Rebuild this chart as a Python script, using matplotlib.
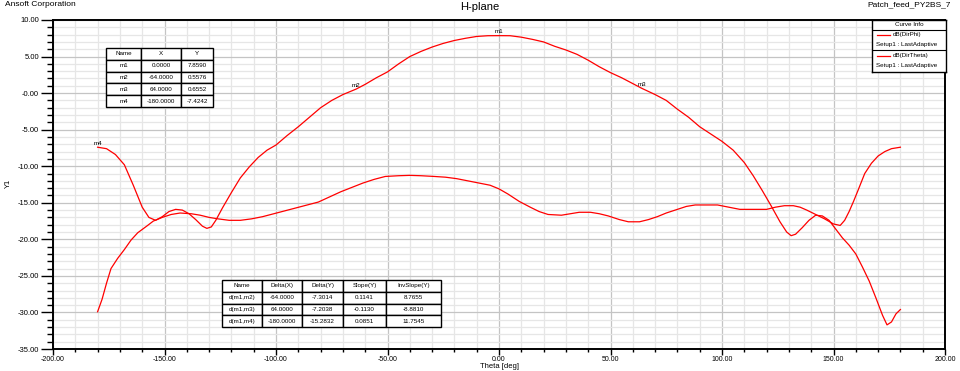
import numpy as np
import matplotlib
matplotlib.use('Agg')
import matplotlib.pyplot as plt
from matplotlib.ticker import MultipleLocator, FixedLocator

# Dane (H-plane)
theta_phi = [-180, -176, -172, -168, -164, -160, -157, -154, -151, -148, -145, -142, -139, -136, -133, -131,
             -129, -127, -124, -120, -116, -112, -108, -104, -100, -95, -90, -85, -80, -75, -70, -64, -60,
             -55, -50, -45, -40, -35, -30, -25, -20, -15, -10, -5, 0, 5, 10, 15, 20, 25, 30, 35, 40, 45,
             50, 55, 60, 64, 70, 75, 80, 85, 90, 95, 100, 105, 110, 114, 118, 122, 126, 129, 131, 133,
             136, 139, 142, 145, 148, 151, 154, 157, 160, 163, 166, 169, 172, 174, 176, 178, 180]
db_phi = [-7.4, -7.6, -8.4, -9.8, -12.6, -15.6, -17.0, -17.4, -16.9, -16.2, -15.9, -16.0, -16.5, -17.3, -18.2,
          -18.5, -18.3, -17.4, -15.7, -13.6, -11.6, -10.1, -8.8, -7.8, -7.1, -5.8, -4.6, -3.3, -2.0, -1.0,
          -0.2, 0.56, 1.2, 2.1, 2.9, 4.0, 5.0, 5.7, 6.3, 6.8, 7.2, 7.5, 7.75, 7.85, 7.86, 7.85, 7.65, 7.35,
          7.0, 6.4, 5.9, 5.3, 4.5, 3.6, 2.8, 2.1, 1.3, 0.66, -0.2, -1.0, -2.2, -3.3, -4.6, -5.6, -6.6, -7.8,
          -9.5, -11.3, -13.3, -15.4, -17.6, -19.0, -19.5, -19.3, -18.4, -17.4, -16.7, -16.8, -17.4, -18.6,
          -19.8, -20.8, -22.0, -23.8, -25.7, -28.0, -30.4, -31.7, -31.3, -30.2, -29.6]

theta_theta = [-180, -178, -176, -174, -171, -168, -165, -162, -158, -155, -151, -147, -143, -138, -134, -130,
               -126, -121, -116, -111, -106, -101, -96, -91, -86, -81, -76, -71, -66, -61, -56, -51, -45, -40,
               -35, -29, -24, -19, -14, -9, -4, 0, 4, 9, 14, 18, 22, 28, 32, 36, 41, 45, 49, 54, 58, 63, 67,
               71, 75, 79, 84, 88, 93, 98, 103, 108, 114, 120, 124, 128, 132, 135, 138, 142, 146, 150, 153,
               155, 157, 159, 161, 164, 167, 170, 173, 176, 180]
db_theta = [-29.9, -28.2, -26.0, -24.0, -22.6, -21.4, -20.1, -19.1, -18.2, -17.5, -17.0, -16.6, -16.4, -16.5,
            -16.7, -17.0, -17.2, -17.4, -17.4, -17.2, -16.9, -16.5, -16.1, -15.7, -15.3, -14.9, -14.2, -13.5,
            -12.9, -12.3, -11.8, -11.4, -11.3, -11.25, -11.3, -11.4, -11.5, -11.7, -12.0, -12.3, -12.6, -13.1,
            -13.8, -14.8, -15.6, -16.2, -16.6, -16.7, -16.5, -16.3, -16.3, -16.5, -16.8, -17.3, -17.6, -17.6,
            -17.3, -16.9, -16.4, -16.0, -15.5, -15.3, -15.3, -15.3, -15.6, -15.9, -15.9, -15.9, -15.6, -15.4,
            -15.4, -15.6, -16.0, -16.6, -17.2, -17.9, -18.1, -17.4, -16.2, -14.8, -13.3, -11.0, -9.6, -8.6,
            -8.0, -7.6, -7.4]

# Markery
marker_names = ['m1', 'm2', 'm3', 'm4']
marker_x = [0.0, -64.0, 64.0, -180.0]
marker_y = [7.8590, 0.5576, 0.6552, -7.4242]

marker_table = [['Name', 'X', 'Y'],
                ['m1', '0.0000', '7.8590'],
                ['m2', '-64.0000', '0.5576'],
                ['m3', '64.0000', '0.6552'],
                ['m4', '-180.0000', '-7.4242']]

delta_table = [['Name', 'Delta(X)', 'Delta(Y)', 'Slope(Y)', 'InvSlope(Y)'],
               ['d(m1,m2)', '-64.0000', '-7.3014', '0.1141', '8.7655'],
               ['d(m1,m3)', '64.0000', '-7.2038', '-0.1130', '-8.8810'],
               ['d(m1,m4)', '-180.0000', '-15.2832', '0.0851', '11.7545']]

x_ticks = [-200, -150, -100, -50, 0, 50, 100, 150, 200]
x_tick_labels = ['-200.00', '-150.00', '-100.00', '-50.00', '0.00', '50.00', '100.00', '150.00', '200.00']
y_ticks = [-35, -30, -25, -20, -15, -10, -5, 0, 5, 10]
y_tick_labels = ['-35.00', '-30.00', '-25.00', '-20.00', '-15.00', '-10.00', '-5.00', '-0.00', '5.00', '10.00']

W, H = 960, 371
plt.rcParams['font.family'] = ['Liberation Sans', 'DejaVu Sans']

fig = plt.figure(figsize=(W / 100, H / 100), dpi=100)


def px_rect(x0, y0, x1, y1):
    """Prostokąt w pikselach (od góry) -> ułamki figury."""
    return [x0 / W, 1 - y1 / H, (x1 - x0) / W, (y1 - y0) / H]


ax = fig.add_axes(px_rect(53, 20, 945, 349))
ax.plot(theta_phi, db_phi, color='#ff0000', lw=0.9)
ax.plot(theta_theta, db_theta, color='#ff0000', lw=0.9)

ax.set_xlim(-200, 200)
ax.set_ylim(-35, 10)
ax.xaxis.set_major_locator(FixedLocator(x_ticks))
ax.yaxis.set_major_locator(FixedLocator(y_ticks))
ax.set_xticklabels(x_tick_labels)
ax.set_yticklabels(y_tick_labels)
ax.xaxis.set_minor_locator(MultipleLocator(10))
ax.yaxis.set_minor_locator(MultipleLocator(1))
ax.tick_params(axis='y', which='major', length=9, width=1.0, labelsize=5.5, pad=1, direction='out')
ax.tick_params(axis='y', which='minor', length=4, width=1.0, direction='out')
ax.tick_params(axis='x', which='major', length=4.5, width=1.0, labelsize=5, pad=0.5, direction='out')
ax.tick_params(axis='x', which='minor', length=2.5, width=1.0, direction='out')
ax.grid(which='minor', color='#e6e6e6', lw=0.9)
ax.grid(which='major', color='#c4c4c4', lw=0.9)
ax.set_axisbelow(True)
for s in ax.spines.values():
    s.set_linewidth(1.4)
    s.set_color('black')

for name, mx, my in zip(marker_names, marker_x, marker_y):
    ax.annotate(name, (mx, my), xytext=(0, 1), textcoords='offset points',
                ha='center', va='bottom', fontsize=4.5)

# Teksty
fig.text(5 / W, 1 - 5 / H, 'Ansoft Corporation', fontsize=6, va='center', ha='left')
fig.text(480 / W, 1 - 7 / H, 'H-plane', fontsize=8, va='center', ha='center')
fig.text(951 / W, 1 - 5 / H, 'Patch_feed_PY2BS_7', fontsize=6, va='center', ha='right')
fig.text(8 / W, 1 - 183 / H, 'Y1', fontsize=5.5, rotation=90, va='center', ha='center')
fig.text(499 / W, 1 - 366 / H, 'Theta [deg]', fontsize=5.5, va='center', ha='center')


def draw_table(rows, rect, col_w):
    tax = fig.add_axes(rect)
    tax.set_axis_off()
    tab = tax.table(cellText=rows, cellLoc='center', bbox=[0, 0, 1, 1], colWidths=col_w)
    tab.auto_set_font_size(False)
    tab.set_fontsize(4.5)
    for cell in tab.get_celld().values():
        cell.set_linewidth(1.0)
        cell.set_edgecolor('black')
        cell.set_facecolor('white')
    return tab


draw_table(marker_table, px_rect(106, 48, 213, 107), [35, 40, 32])
draw_table(delta_table, px_rect(222, 280, 441, 327), [40, 40, 41, 43, 55])

# Legenda
lax = fig.add_axes(px_rect(872, 20, 946, 72))
lax.set_xlim(0, 74)
lax.set_ylim(52, 0)
lax.set_xticks([])
lax.set_yticks([])
for s in lax.spines.values():
    s.set_linewidth(1.0)
lax.text(37, 5, 'Curve Info', fontsize=4.5, ha='center', va='center')
lax.axhline(9.5, color='black', lw=0.8)
lax.axhline(30, color='black', lw=0.8)
lax.plot([5, 18], [15, 15], color='#ff0000', lw=0.9)
lax.text(21, 14.5, 'dB(DirPhi)', fontsize=4.5, va='center')
lax.text(4, 24.5, 'Setup1 : LastAdaptive', fontsize=4.5, va='center')
lax.plot([5, 18], [36, 36], color='#ff0000', lw=0.9)
lax.text(21, 35.5, 'dB(DirTheta)', fontsize=4.5, va='center')
lax.text(4, 45, 'Setup1 : LastAdaptive', fontsize=4.5, va='center')

fig.savefig('out.png', dpi=100)
